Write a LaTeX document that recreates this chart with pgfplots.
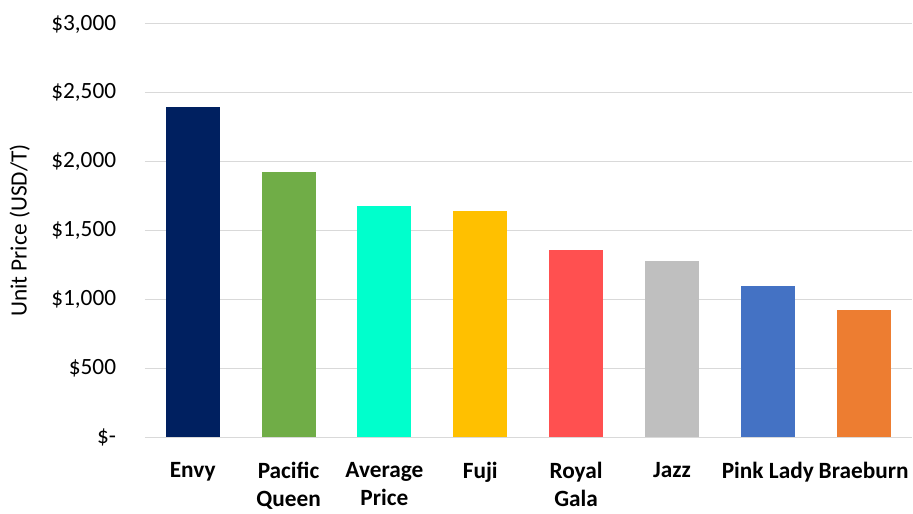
\documentclass[border=0pt]{standalone}
\usepackage{pgfplots}
\pgfplotsset{compat=1.18}
\usepackage{fontspec}
\setmainfont{Carlito}
\definecolor{cEnvy}{HTML}{002060}
\definecolor{cPQ}{HTML}{70AD47}
\definecolor{cAvg}{HTML}{00FFCC}
\definecolor{cFuji}{HTML}{FFC000}
\definecolor{cRG}{HTML}{FF5050}
\definecolor{cJazz}{HTML}{BFBFBF}
\definecolor{cPL}{HTML}{4472C4}
\definecolor{cBr}{HTML}{ED7D31}
\definecolor{gridc}{HTML}{D9D9D9}
\begin{document}
\begin{tikzpicture}[x=1pt,y=1pt]
\begin{axis}[
  at={(0,0)}, anchor=south west,
  scale only axis,
  width=576pt, height=310.5pt,
  ybar, bar width=40.5pt, bar shift=0pt,
  xmin=-0.5, xmax=7.5,
  ymin=0, ymax=3000,
  xtick={0,...,7},
  xticklabels={Envy, {Pacific\\Queen}, {Average\\Price}, Fuji, {Royal\\Gala}, Jazz, Pink Lady, Braeburn},
  xticklabel style={font=\fontsize{17.5}{21}\selectfont\bfseries, align=center, anchor=north, yshift=-15pt},
  ytick={0,500,1000,1500,2000,2500,3000},
  yticklabels={\$-, \$500, {\$1,000}, {\$1,500}, {\$2,000}, {\$2,500}, {\$3,000}},
  yticklabel style={font=\fontsize{17.5}{19}\selectfont, anchor=east, xshift=-18pt},
  ylabel={Unit Price (USD/T)},
  ylabel style={font=\fontsize{17.5}{19}\selectfont},
  every axis y label/.append style={at={(rel axis cs:0,0.5)}, anchor=center, yshift=94pt},
  ymajorgrids, xmajorgrids=false,
  y grid style={gridc, line width=0.75pt},
  separate axis lines,
  axis x line*=bottom, axis y line*=left,
  x axis line style={gridc, line width=0.75pt, -},
  y axis line style={draw=none},
  major tick length=0pt,
  tick style={draw=none},
  clip=false,
]
\addplot[fill=cEnvy, draw=none] coordinates {(0,2400)};
\addplot[fill=cPQ, draw=none] coordinates {(1,1925)};
\addplot[fill=cAvg, draw=none] coordinates {(2,1682)};
\addplot[fill=cFuji, draw=none] coordinates {(3,1645)};
\addplot[fill=cRG, draw=none] coordinates {(4,1357)};
\addplot[fill=cJazz, draw=none] coordinates {(5,1277)};
\addplot[fill=cPL, draw=none] coordinates {(6,1095)};
\addplot[fill=cBr, draw=none] coordinates {(7,922)};
\end{axis}
\path[use as bounding box] (-108.75,-52.5) rectangle (576,328.5);
\end{tikzpicture}
\end{document}
